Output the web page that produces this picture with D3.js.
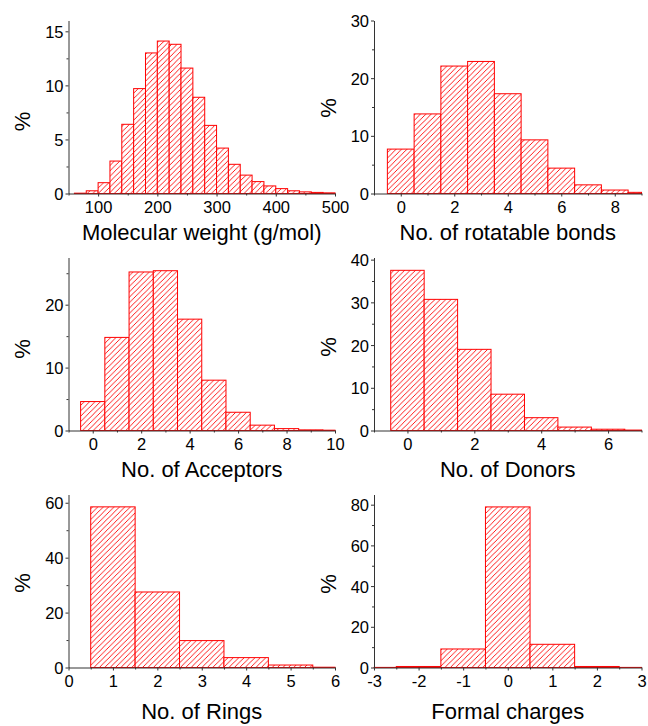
<!DOCTYPE html>
<html>
<head>
<meta charset="utf-8">
<script src="https://cdn.jsdelivr.net/npm/d3@7"></script>
<style>
  body { margin: 0; background: #fff; }
  svg { display: block; font-family: "Liberation Sans", Arial, sans-serif; }
</style>
</head>
<body>
<div class="vis-hist"></div>
<script>
// molecular weight, bins of 20 g/mol (lower edges)
const mwBins = [60, 80, 100, 120, 140, 160, 180, 200, 220, 240, 260, 280, 300, 320, 340, 360, 380, 400, 420, 440, 460, 480];
const mwPct = [0.03, 0.25, 1.0, 3.0, 6.4, 9.7, 13.0, 14.1, 13.8, 11.6, 8.9, 6.3, 4.2, 2.7, 1.7, 1.1, 0.7, 0.45, 0.25, 0.15, 0.1, 0.06];

// integer-valued descriptors (bars centred on the value)
const rotBins = [0, 1, 2, 3, 4, 5, 6, 7, 8, 9];
const rotPct = [7.7, 13.8, 22.1, 22.9, 17.3, 9.3, 4.4, 1.5, 0.6, 0.2];

const accBins = [0, 1, 2, 3, 4, 5, 6, 7, 8, 9, 10];
const accPct = [4.6, 14.8, 25.2, 25.4, 17.7, 8.0, 2.9, 0.85, 0.3, 0.1, 0.05];

const donBins = [0, 1, 2, 3, 4, 5, 6, 7];
const donPct = [37.5, 30.7, 19.0, 8.5, 3.0, 0.8, 0.3, 0.1];

const ringBins = [0, 1, 2, 3, 4, 5, 6];
const ringPct = [0, 58.5, 27.5, 9.8, 3.6, 0.9, 0.1];

const chargeBins = [-3, -2, -1, 0, 1, 2, 3];
const chargePct = [0.05, 0.5, 9.1, 78.9, 11.4, 0.5, 0.05];

const panels = [
  { bins: mwBins, pct: mwPct, start: true, width: 20, xDomain: [50, 500], yDomain: [0, 16],
    xTicks: [100, 200, 300, 400, 500], xMinor: [50, 150, 250, 350, 450], yTicks: [0, 5, 10, 15], yMinor: [2.5, 7.5, 12.5],
    title: "Molecular weight (g/mol)" },
  { bins: rotBins, pct: rotPct, width: 1, xDomain: [-1, 9], yDomain: [0, 30],
    xTicks: [0, 2, 4, 6, 8], xMinor: [-1, 1, 3, 5, 7, 9], yTicks: [0, 10, 20, 30], yMinor: [5, 15, 25],
    title: "No. of rotatable bonds" },
  { bins: accBins, pct: accPct, width: 1, xDomain: [-1, 10], yDomain: [0, 27.5],
    xTicks: [0, 2, 4, 6, 8, 10], xMinor: [-1, 1, 3, 5, 7, 9], yTicks: [0, 10, 20], yMinor: [5, 15, 25],
    title: "No. of Acceptors" },
  { bins: donBins, pct: donPct, width: 1, xDomain: [-1, 7], yDomain: [0, 40.5],
    xTicks: [0, 2, 4, 6], xMinor: [-1, 1, 3, 5, 7], yTicks: [0, 10, 20, 30, 40], yMinor: [5, 15, 25, 35],
    title: "No. of Donors" },
  { bins: ringBins, pct: ringPct, width: 1, xDomain: [0, 6], yDomain: [0, 63],
    xTicks: [0, 1, 2, 3, 4, 5, 6], xMinor: [0.5, 1.5, 2.5, 3.5, 4.5, 5.5], yTicks: [0, 20, 40, 60], yMinor: [10, 30, 50],
    title: "No. of Rings" },
  { bins: chargeBins, pct: chargePct, width: 1, xDomain: [-3, 3], yDomain: [0, 85],
    xTicks: [-3, -2, -1, 0, 1, 2, 3], xMinor: [-2.5, -1.5, -0.5, 0.5, 1.5, 2.5], yTicks: [0, 20, 40, 60, 80], yMinor: [10, 30, 50, 70],
    title: "Formal charges" }
];

// layout of the 3x2 grid
const cols = [{ x0: 68.5, x1: 335 }, { x0: 374, x1: 641.5 }];
const rows = [{ y0: 20.5, y1: 193.5, titleDy: 46 }, { y0: 257.5, y1: 430.5, titleDy: 46.5 }, { y0: 494.5, y1: 667.5, titleDy: 51 }];
const pctY = [121.5, 108, 349, 347, 583, 584];

const svg = d3.select(".vis-hist").append("svg").attr("width", 648).attr("height", 726);

const hs = 5.4; // hatch period
const pat = svg.append("defs").append("pattern")
  .attr("id", "hatch")
  .attr("patternUnits", "userSpaceOnUse")
  .attr("width", hs)
  .attr("height", hs);
pat.append("rect").attr("width", hs).attr("height", hs).attr("fill", "#fff");
pat.append("path")
  .attr("d", `M0,${hs} L${hs},0 M-1,1 L1,-1 M${hs - 1},${hs + 1} L${hs + 1},${hs - 1}`)
  .attr("stroke", "#ff0000")
  .attr("stroke-width", 0.9);

const fmt = (d) => String(d);

panels.forEach((p, i) => {
  const c = cols[i % 2];
  const r = rows[Math.floor(i / 2)];

  const x = d3.scaleLinear().domain(p.xDomain).range([c.x0, c.x1]).clamp(true);
  const y = d3.scaleLinear().domain(p.yDomain).range([r.y1, r.y0]);

  const g = svg.append("g");

  // bars
  g.append("g")
    .selectAll("rect")
    .data(p.bins.map((b, k) => ({ b: b, v: p.pct[k] })).filter((d) => d.v > 0))
    .enter()
    .append("rect")
    .attr("x", (d) => x(p.start ? d.b : d.b - p.width / 2))
    .attr("width", (d) => {
      const lo = p.start ? d.b : d.b - p.width / 2;
      return x(lo + p.width) - x(lo);
    })
    .attr("y", (d) => y(d.v))
    .attr("height", (d) => y(0) - y(d.v))
    .attr("fill", "url(#hatch)")
    .attr("stroke", "#ff0000")
    .attr("stroke-width", 1);

  // minor ticks
  g.append("g")
    .attr("transform", `translate(0,${r.y1})`)
    .call(d3.axisBottom(x).tickValues(p.xMinor).tickSize(2).tickSizeOuter(0).tickFormat(""))
    .call((a) => a.select(".domain").remove());
  g.append("g")
    .attr("transform", `translate(${c.x0},0)`)
    .call(d3.axisLeft(y).tickValues(p.yMinor).tickSize(2).tickSizeOuter(0).tickFormat(""))
    .call((a) => a.select(".domain").remove());

  // major axes
  const xa = g.append("g")
    .attr("transform", `translate(0,${r.y1})`)
    .call(d3.axisBottom(x).tickValues(p.xTicks).tickFormat(fmt).tickSize(3).tickSizeOuter(0).tickPadding(4));
  const ya = g.append("g")
    .attr("transform", `translate(${c.x0},0)`)
    .call(d3.axisLeft(y).tickValues(p.yTicks).tickFormat(fmt).tickSize(3).tickSizeOuter(0).tickPadding(2));

  [xa, ya].forEach((a) => {
    a.selectAll("text").attr("font-size", 16.5).attr("fill", "#000").attr("font-family", "Liberation Sans, Arial, sans-serif");
  });
  xa.selectAll("text").attr("dy", "0.75em");
  ya.selectAll("text").attr("dy", "0.36em");
  g.selectAll(".domain, .tick line").attr("stroke", "#333");

  // titles
  g.append("text")
    .attr("x", (c.x0 + c.x1) / 2)
    .attr("y", r.y1 + r.titleDy)
    .attr("text-anchor", "middle")
    .attr("font-size", 22)
    .text(p.title);

  g.append("text")
    .attr("transform", `translate(${c.x0 - 46},${pctY[i]}) rotate(-90)`)
    .attr("text-anchor", "middle")
    .attr("dy", "0.35em")
    .attr("font-size", 22)
    .text("%");
});
</script>
</body>
</html>
